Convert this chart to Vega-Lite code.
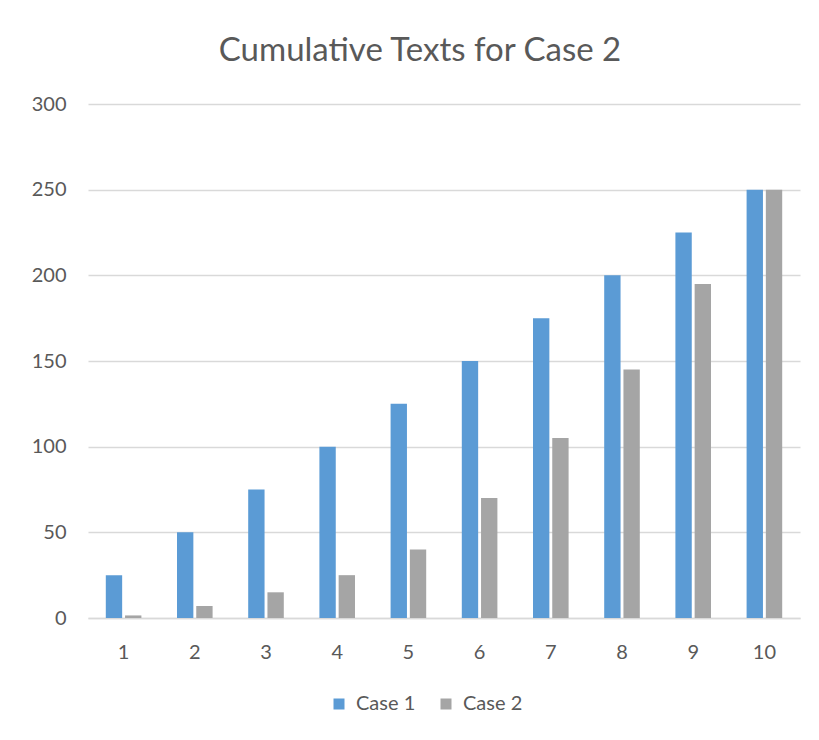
{
  "$schema": "https://vega.github.io/schema/vega-lite/v6.json",
  "autosize": {"type": "none"},
  "padding": {"left": 88, "top": 104, "right": 19, "bottom": 122},
  "width": 712,
  "height": 514,
  "background": "white",
  "title": {
    "text": "Cumulative Texts for Case 2",
    "font": "Lato",
    "fontSize": 33,
    "fontWeight": "normal",
    "color": "#595959",
    "anchor": "middle",
    "frame": "group",
    "dx": -24,
    "offset": 26
  },
  "data": {
    "values": [
      {"step": 1, "series": "Case 1", "texts": 25},
      {"step": 1, "series": "Case 2", "texts": 1.5},
      {"step": 2, "series": "Case 1", "texts": 50},
      {"step": 2, "series": "Case 2", "texts": 7},
      {"step": 3, "series": "Case 1", "texts": 75},
      {"step": 3, "series": "Case 2", "texts": 15},
      {"step": 4, "series": "Case 1", "texts": 100},
      {"step": 4, "series": "Case 2", "texts": 25},
      {"step": 5, "series": "Case 1", "texts": 125},
      {"step": 5, "series": "Case 2", "texts": 40},
      {"step": 6, "series": "Case 1", "texts": 150},
      {"step": 6, "series": "Case 2", "texts": 70},
      {"step": 7, "series": "Case 1", "texts": 175},
      {"step": 7, "series": "Case 2", "texts": 105},
      {"step": 8, "series": "Case 1", "texts": 200},
      {"step": 8, "series": "Case 2", "texts": 145},
      {"step": 9, "series": "Case 1", "texts": 225},
      {"step": 9, "series": "Case 2", "texts": 195},
      {"step": 10, "series": "Case 1", "texts": 250},
      {"step": 10, "series": "Case 2", "texts": 250}
    ]
  },
  "mark": {"type": "bar"},
  "encoding": {
    "x": {
      "field": "step",
      "type": "ordinal",
      "scale": {"paddingInner": 0.5, "paddingOuter": 0.25},
      "axis": {
        "title": null,
        "labelAngle": 0,
        "labelFont": "Lato",
        "labelFontSize": 20,
        "labelColor": "#595959",
        "labelPadding": 24,
        "ticks": false,
        "domainColor": "#d9d9d9",
        "domainWidth": 1.5,
        "grid": false
      }
    },
    "xOffset": {
      "field": "series",
      "type": "nominal",
      "scale": {"paddingInner": 0.15, "paddingOuter": 0}
    },
    "y": {
      "field": "texts",
      "type": "quantitative",
      "scale": {"domain": [0, 300], "nice": false},
      "axis": {
        "title": null,
        "values": [0, 50, 100, 150, 200, 250, 300],
        "labelFont": "Lato",
        "labelFontSize": 20,
        "labelColor": "#595959",
        "labelPadding": 22,
        "ticks": false,
        "domain": false,
        "gridColor": "#d9d9d9",
        "gridWidth": 1.5
      }
    },
    "color": {
      "field": "series",
      "type": "nominal",
      "scale": {"domain": ["Case 1", "Case 2"], "range": ["#5B9BD5", "#A5A5A5"]},
      "legend": {
        "title": null,
        "orient": "none",
        "direction": "horizontal",
        "legendX": 241,
        "legendY": 590,
        "symbolType": "square",
        "symbolSize": 121,
        "symbolStrokeWidth": 0,
        "labelFont": "Lato",
        "labelFontSize": 20,
        "labelColor": "#595959",
        "columnPadding": 20,
        "labelOffset": 7
      }
    }
  },
  "config": {
    "view": {"stroke": null},
    "axis": {"labelFontWeight": "normal"}
  }
}
